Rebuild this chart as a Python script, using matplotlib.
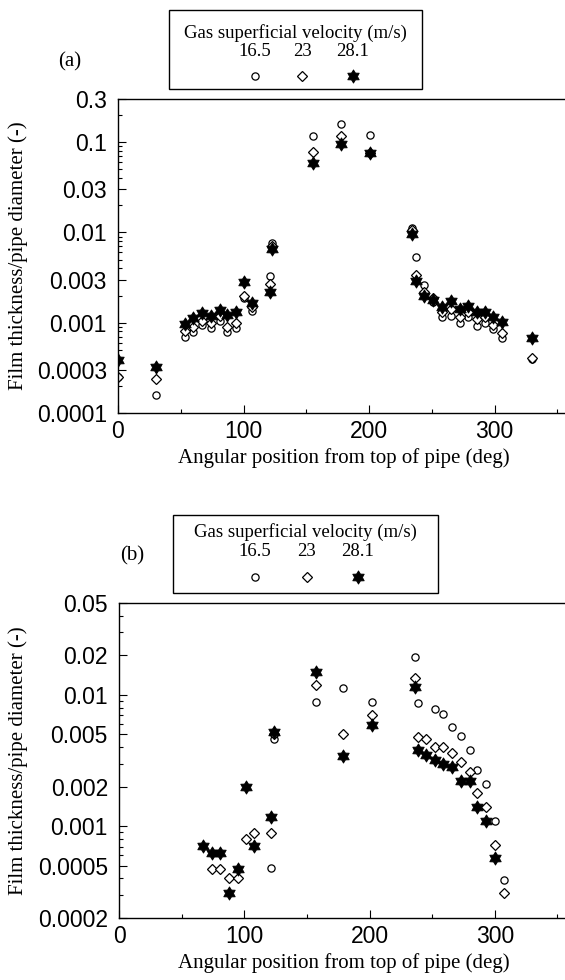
import numpy as np
import matplotlib
matplotlib.use("Agg")
import matplotlib.pyplot as plt
from matplotlib.path import Path
from matplotlib.patches import Rectangle
from matplotlib.lines import Line2D
from matplotlib.ticker import FixedLocator, LogLocator, NullFormatter

W, H = 565, 980

velocities = ["16.5", "23", "28.1"]
x_ticks = [0, 100, 200, 300]

# (a) angular positions (deg) and film thickness / pipe diameter
angle_a = [0, 30, 53, 60, 67, 74, 81, 87, 94, 100, 107, 121, 123, 155, 178, 201,
           234, 237, 244, 251, 258, 265, 272, 279, 286, 292, 299, 306, 330]
circ_a = [0.00025, 0.00016, 0.00070, 0.00078, 0.00095, 0.00088, 0.00105, 0.00078, 0.00088,
          0.0019, 0.00135, 0.0033, 0.0076, 0.118, 0.16, 0.12,
          0.0113, 0.0054, 0.0026, 0.0017, 0.00115, 0.0012, 0.00100, 0.00115, 0.00092,
          0.0010, 0.00085, 0.00067, 0.00040]
diam_a = [0.00025, 0.00024, 0.00080, 0.00090, 0.00105, 0.00100, 0.00118, 0.00090, 0.00100,
          0.0020, 0.0015, 0.0027, 0.0071, 0.077, 0.118, 0.076,
          0.0105, 0.0034, 0.0022, 0.0019, 0.00130, 0.0014, 0.00115, 0.0013, 0.00110,
          0.00115, 0.00095, 0.00076, 0.00041]
star_a = [0.00039, 0.00032, 0.00096, 0.00112, 0.00128, 0.00118, 0.00138, 0.00122, 0.00130,
          0.0028, 0.00165, 0.0022, 0.0065, 0.058, 0.096, 0.075,
          0.0096, 0.0029, 0.0020, 0.00178, 0.00148, 0.00172, 0.00140, 0.00155, 0.00133,
          0.00133, 0.00117, 0.00101, 0.00068]
yticks_a = [0.0001, 0.0003, 0.001, 0.003, 0.01, 0.03, 0.1, 0.3]
ylabels_a = ["0.0001", "0.0003", "0.001", "0.003", "0.01", "0.03", "0.1", "0.3"]

# (b)
angle_b = [67, 74, 81, 88, 95, 101, 108, 121, 124, 157, 179, 202,
           236, 239, 245, 252, 259, 266, 273, 280, 286, 293, 300, 307]
circ_b = [np.nan, np.nan, np.nan, np.nan, np.nan, np.nan, np.nan, 0.00048, 0.0046, 0.0088, 0.0112, 0.0088,
          0.0194, 0.0086, np.nan, 0.0078, 0.0072, 0.0057, 0.0049, 0.0038, 0.0027, 0.0021, 0.0011, 0.00039]
diam_b = [np.nan, 0.00047, 0.00047, 0.00040, 0.00040, 0.00080, 0.00088, 0.00088, 0.0050, 0.0118, 0.0050, 0.0070,
          0.0134, 0.0048, 0.0046, 0.0040, 0.0040, 0.0036, 0.0031, 0.0026, 0.0018, 0.0014, 0.00072, 0.00031]
star_b = [0.00071, 0.00063, 0.00063, 0.00031, 0.00047, 0.00197, 0.00071, 0.00118, 0.0052, 0.0149, 0.0034, 0.0059,
          0.0115, 0.0038, 0.0035, 0.0032, 0.0030, 0.0028, 0.0022, 0.0022, 0.0014, 0.0011, 0.00057, np.nan]
yticks_b = [0.0002, 0.0005, 0.001, 0.002, 0.005, 0.01, 0.02, 0.05]
ylabels_b = ["0.0002", "0.0005", "0.001", "0.002", "0.005", "0.01", "0.02", "0.05"]

# six-pointed star marker
k = np.arange(13)
ang = np.pi / 2 + k * np.pi / 6
rad = np.where(k % 2 == 0, 1.0, 0.6)
hexstar = Path(np.column_stack([rad * np.cos(ang), rad * np.sin(ang)]), closed=True)

SERIF = "Liberation Serif"
SANS = "Liberation Sans"

styles = [
    dict(marker="o", ms=5.2, mfc="white", mec="black", mew=0.9),
    dict(marker="D", ms=5.2, mfc="white", mec="black", mew=0.9),
    dict(marker=hexstar, ms=9.5, mfc="black", mec="black", mew=0.6),
]

fig = plt.figure(figsize=(W / 100, H / 100), dpi=100)


def fx(px):
    return px / W


def fy(py):
    return 1 - py / H


def make_panel(box, angle, series, yticks, ylabels, ylim):
    left, right, top, bottom = box
    ax = fig.add_axes([fx(left), fy(bottom), (right - left) / W, (bottom - top) / H])
    for vals, st in zip(series, styles):
        ax.plot(angle, vals, ls="none", **st)
    ax.set_yscale("log")
    ax.set_ylim(*ylim)
    ax.set_xlim(0, 360)
    ax.yaxis.set_major_locator(FixedLocator(yticks))
    ax.yaxis.set_minor_locator(LogLocator(base=10, subs=np.arange(2, 10)))
    ax.yaxis.set_minor_formatter(NullFormatter())
    ax.set_yticklabels(ylabels)
    ax.set_xticks(x_ticks)
    ax.set_xticks([50, 150, 250, 350], minor=True)
    ax.tick_params(which="both", direction="in", top=False, right=False,
                   labelsize=16.5, width=0.8)
    ax.tick_params(which="major", length=6, pad=5)
    ax.tick_params(which="minor", length=3)
    ax.tick_params(axis="y", pad=8)
    for lab in ax.get_xticklabels() + ax.get_yticklabels():
        lab.set_fontfamily(SANS)
    for s in ax.spines.values():
        s.set_linewidth(1.0)
    return ax


ax_a = make_panel((118, 570, 99, 413), angle_a, [circ_a, diam_a, star_a],
                  yticks_a, ylabels_a, (0.0001, 0.3))
ax_b = make_panel((119, 570, 603, 918), angle_b, [circ_b, diam_b, star_b],
                  yticks_b, ylabels_b, (0.0002, 0.05))


def legend_box(x0, x1, y0, y1, ty, ny, my, xs, label_pos):
    fig.add_artist(Rectangle((fx(x0), fy(y1)), (x1 - x0) / W, (y1 - y0) / H,
                             transform=fig.transFigure, fill=False, lw=1.0, ec="black"))
    fig.text(fx((x0 + x1) / 2), fy(ty), "Gas superficial velocity (m/s)",
             ha="center", va="center", family=SERIF, fontsize=13.5)
    for v, xv, st in zip(velocities, xs, styles):
        fig.text(fx(xv), fy(ny), v, ha="center", va="center", family=SERIF, fontsize=13.5)
        fig.add_artist(Line2D([fx(xv)], [fy(my)], transform=fig.transFigure, ls="none", **st))
    fig.text(fx(label_pos[0]), fy(label_pos[1]), label_pos[2], ha="center", va="center",
             family=SERIF, fontsize=15)


legend_box(169, 422, 10, 89, 33, 51, 76, [255, 302, 353], (70, 62, "(a)"))
legend_box(173, 438, 515, 593, 532, 552, 577, [255, 307, 358], (132, 556, "(b)"))

for ax, top, bottom in [(ax_a, 99, 413), (ax_b, 603, 918)]:
    fig.text(fx(344), fy(bottom + 45), "Angular position from top of pipe (deg)",
             ha="center", va="center", family=SERIF, fontsize=15)
    fig.text(fx(18), fy((top + bottom) / 2), "Film thickness/pipe diameter (-)",
             ha="center", va="center", rotation=90, family=SERIF, fontsize=15)

fig.savefig("out.png", dpi=100)
